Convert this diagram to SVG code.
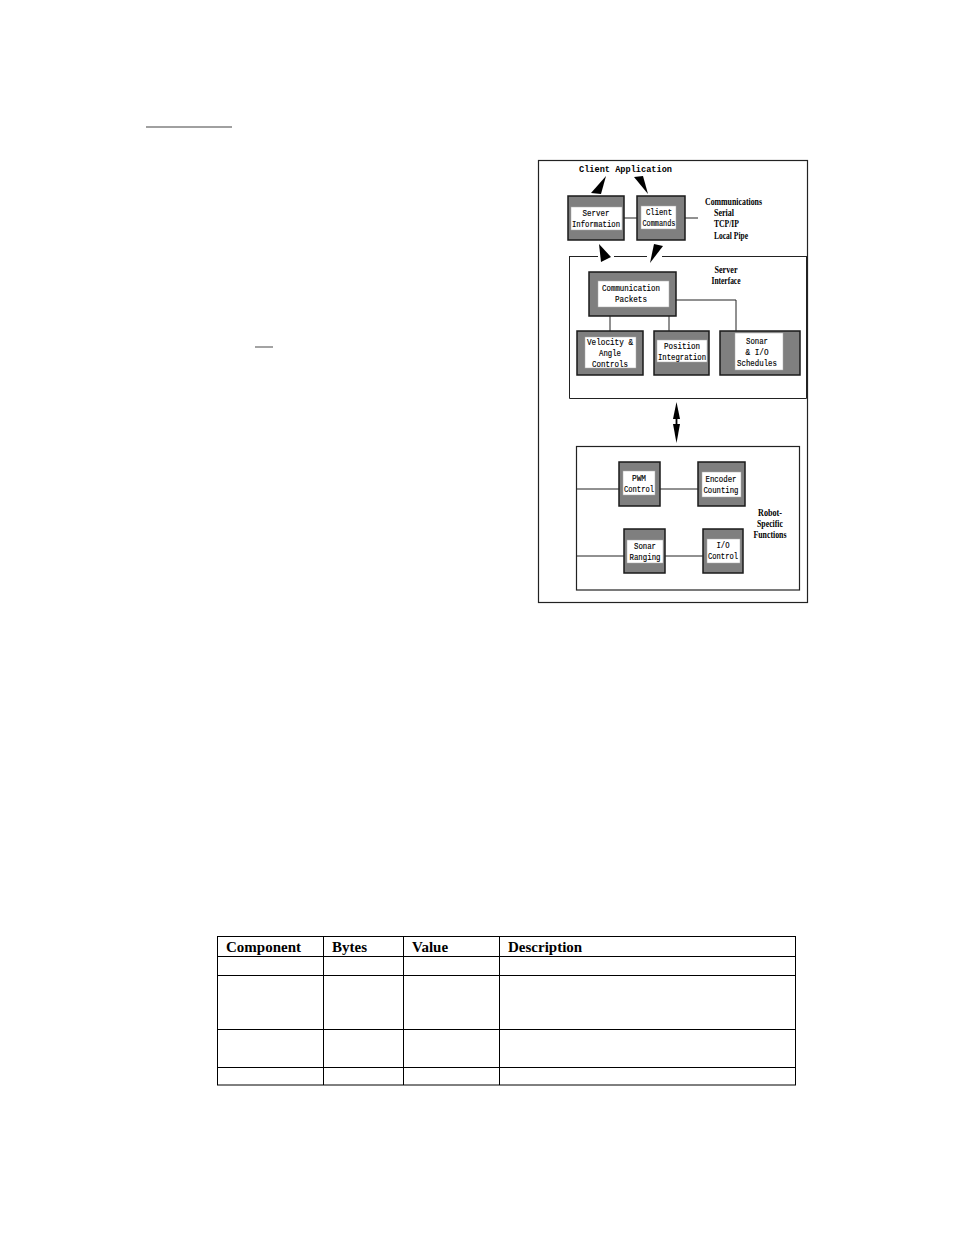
<svg xmlns="http://www.w3.org/2000/svg" width="954" height="1235" viewBox="0 0 954 1235">
<style>
.frame{fill:none;stroke:#222;stroke-width:1.2}
.ob{fill:#7f7f7f;stroke:#1a1a1a;stroke-width:1.5}
.ib{fill:#fff;stroke:#aaa;stroke-width:0.5}
.m{font-family:"Liberation Mono","DejaVu Sans Mono",monospace;font-size:8.4px;fill:#000;text-anchor:middle;stroke:#000;stroke-width:0.15}
.mb{font-family:"Liberation Mono","DejaVu Sans Mono",monospace;font-size:9.5px;font-weight:bold;fill:#000}
.s{font-family:"Liberation Serif","Times New Roman",serif;font-size:10px;font-weight:bold;fill:#000}
.sc{font-family:"Liberation Serif","Times New Roman",serif;font-size:10px;font-weight:bold;fill:#000;text-anchor:middle}
.ln{fill:none;stroke:#222;stroke-width:1}
.ar{fill:#000}
.t{fill:none;stroke:#000;stroke-width:1}
.th{font-family:"Liberation Serif","Times New Roman",serif;font-size:15px;font-weight:bold;fill:#000}
</style>
<rect width="954" height="1235" fill="#fff"/>
<line x1="146" y1="127" x2="232" y2="127" stroke="#808080" stroke-width="1.5"/>
<line x1="255" y1="347" x2="273" y2="347" stroke="#666" stroke-width="1.2"/>

<g id="outer-frame"><rect x="538.5" y="160.5" width="269" height="442" class="frame"/></g>

<g id="client-application"><text x="579" y="172" class="mb" textLength="93" lengthAdjust="spacingAndGlyphs">Client Application</text></g>

<g id="server-information">
<rect x="568" y="196" width="56" height="44" class="ob"/>
<rect x="571" y="207" width="51" height="23" class="ib"/>
<text x="596" y="216" class="m" textLength="27" lengthAdjust="spacingAndGlyphs">Server</text>
<text x="596" y="227" class="m" textLength="48" lengthAdjust="spacingAndGlyphs">Information</text>
</g>

<g id="client-commands">
<rect x="637" y="196" width="48" height="44" class="ob"/>
<rect x="641" y="206" width="35" height="23" class="ib"/>
<text x="659" y="215" class="m" textLength="26" lengthAdjust="spacingAndGlyphs">Client</text>
<text x="659" y="226" class="m" textLength="33" lengthAdjust="spacingAndGlyphs">Commands</text>
</g>

<g id="communications-label">
<text x="705" y="205" class="s" textLength="57" lengthAdjust="spacingAndGlyphs">Communications</text>
<text x="714" y="216" class="s" textLength="20" lengthAdjust="spacingAndGlyphs">Serial</text>
<text x="714" y="227" class="s" textLength="25" lengthAdjust="spacingAndGlyphs">TCP/IP</text>
<text x="714" y="239" class="s" textLength="34" lengthAdjust="spacingAndGlyphs">Local Pipe</text>
</g>

<g id="server-interface">
<line x1="569" y1="256.5" x2="598" y2="256.5" class="ln"/>
<line x1="614" y1="256.5" x2="647" y2="256.5" class="ln"/>
<line x1="662" y1="256.5" x2="806.5" y2="256.5" class="ln"/>
<polyline points="569.5,256 569.5,398.5 806.5,398.5 806.5,256" class="ln"/>
<text x="726" y="273" class="sc" textLength="23" lengthAdjust="spacingAndGlyphs">Server</text>
<text x="726" y="284" class="sc" textLength="29" lengthAdjust="spacingAndGlyphs">Interface</text>
</g>

<g id="communication-packets">
<rect x="589" y="272" width="87" height="44" class="ob"/>
<rect x="598" y="281" width="71" height="26" class="ib"/>
<text x="631" y="291" class="m" textLength="58" lengthAdjust="spacingAndGlyphs">Communication</text>
<text x="631" y="302" class="m" textLength="32" lengthAdjust="spacingAndGlyphs">Packets</text>
</g>

<g id="velocity-angle-controls">
<rect x="577" y="331" width="66" height="44" class="ob"/>
<rect x="585" y="337" width="51" height="31" class="ib"/>
<text x="610" y="345" class="m" textLength="46" lengthAdjust="spacingAndGlyphs">Velocity &amp;</text>
<text x="610" y="356" class="m" textLength="22" lengthAdjust="spacingAndGlyphs">Angle</text>
<text x="610" y="367" class="m" textLength="36" lengthAdjust="spacingAndGlyphs">Controls</text>
</g>

<g id="position-integration">
<rect x="654" y="331" width="55" height="44" class="ob"/>
<rect x="657" y="340" width="50" height="22" class="ib"/>
<text x="682" y="349" class="m" textLength="36" lengthAdjust="spacingAndGlyphs">Position</text>
<text x="682" y="360" class="m" textLength="48" lengthAdjust="spacingAndGlyphs">Integration</text>
</g>

<g id="sonar-io-schedules">
<rect x="720" y="331" width="80" height="44" class="ob"/>
<rect x="735" y="333" width="48" height="37" class="ib"/>
<text x="757" y="344" class="m" textLength="22" lengthAdjust="spacingAndGlyphs">Sonar</text>
<text x="757" y="355" class="m" textLength="23" lengthAdjust="spacingAndGlyphs">&amp; I/O</text>
<text x="757" y="366" class="m" textLength="40" lengthAdjust="spacingAndGlyphs">Schedules</text>
</g>

<g id="robot-specific-functions">
<rect x="576.5" y="446.5" width="223" height="143.5" class="frame"/>
<text x="770" y="516" class="sc" textLength="24" lengthAdjust="spacingAndGlyphs">Robot-</text>
<text x="770" y="527" class="sc" textLength="26" lengthAdjust="spacingAndGlyphs">Specific</text>
<text x="770" y="538" class="sc" textLength="33" lengthAdjust="spacingAndGlyphs">Functions</text>
</g>

<g id="pwm-control">
<rect x="619" y="462" width="41" height="44" class="ob"/>
<rect x="623" y="471" width="32" height="24" class="ib"/>
<text x="639" y="481" class="m" textLength="14" lengthAdjust="spacingAndGlyphs">PWM</text>
<text x="639" y="492" class="m" textLength="30" lengthAdjust="spacingAndGlyphs">Control</text>
</g>

<g id="encoder-counting">
<rect x="698" y="462" width="47" height="44" class="ob"/>
<rect x="702" y="472" width="39" height="25" class="ib"/>
<text x="721" y="482" class="m" textLength="31" lengthAdjust="spacingAndGlyphs">Encoder</text>
<text x="721" y="493" class="m" textLength="35" lengthAdjust="spacingAndGlyphs">Counting</text>
</g>

<g id="sonar-ranging">
<rect x="624" y="529" width="41" height="44" class="ob"/>
<rect x="627" y="540" width="36" height="23" class="ib"/>
<text x="645" y="549" class="m" textLength="22" lengthAdjust="spacingAndGlyphs">Sonar</text>
<text x="645" y="560" class="m" textLength="31" lengthAdjust="spacingAndGlyphs">Ranging</text>
</g>

<g id="io-control">
<rect x="703" y="529" width="40" height="44" class="ob"/>
<rect x="707" y="539" width="33" height="24" class="ib"/>
<text x="723" y="548" class="m" textLength="13" lengthAdjust="spacingAndGlyphs">I/O</text>
<text x="723" y="559" class="m" textLength="30" lengthAdjust="spacingAndGlyphs">Control</text>
</g>

<g id="connectors">
<line x1="624" y1="218" x2="637" y2="218" class="ln"/>
<line x1="685" y1="218" x2="698" y2="218" class="ln"/>
<line x1="610" y1="316" x2="610" y2="331" class="ln"/>
<line x1="669" y1="316" x2="669" y2="331" class="ln"/>
<polyline points="676,300 736,300 736,331" class="ln"/>
<line x1="577" y1="489" x2="619" y2="489" class="ln"/>
<line x1="660" y1="489" x2="698" y2="489" class="ln"/>
<line x1="577" y1="556" x2="624" y2="556" class="ln"/>
<line x1="665" y1="556" x2="703" y2="556" class="ln"/>
<polygon points="591,193 601,194 606,176" class="ar"/>
<polygon points="634,177 643,176 648,194" class="ar"/>
<polygon points="599,244 601,262 611,257" class="ar"/>
<polygon points="654,244 663,246 650,263" class="ar"/>
<line x1="676.5" y1="412" x2="676.5" y2="432" stroke="#000" stroke-width="1.8"/>
<polygon points="676.5,402 673,419 680,419" class="ar"/>
<polygon points="676.5,443 673,424 680,424" class="ar"/>
</g>

<g id="table">
<rect x="217.5" y="936.5" width="578" height="148.5" class="t"/>
<line x1="217" y1="956.5" x2="796" y2="956.5" class="t"/>
<line x1="217" y1="975.5" x2="796" y2="975.5" class="t"/>
<line x1="217" y1="1029.5" x2="796" y2="1029.5" class="t"/>
<line x1="217" y1="1067.5" x2="796" y2="1067.5" class="t"/>
<line x1="323.5" y1="936" x2="323.5" y2="1085" class="t"/>
<line x1="403.5" y1="936" x2="403.5" y2="1085" class="t"/>
<line x1="499.5" y1="936" x2="499.5" y2="1085" class="t"/>
<text x="226" y="952" class="th">Component</text>
<text x="332" y="952" class="th">Bytes</text>
<text x="412" y="952" class="th">Value</text>
<text x="508" y="952" class="th">Description</text>
</g>
</svg>
